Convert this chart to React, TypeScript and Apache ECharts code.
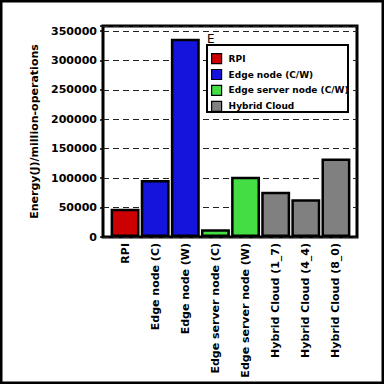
import { useEffect, useRef } from "react";
import * as echarts from "echarts";

const categories = [
  "RPI",
  "Edge node (C)",
  "Edge node (W)",
  "Edge server node (C)",
  "Edge server node (W)",
  "Hybrid Cloud (1_7)",
  "Hybrid Cloud (4_4)",
  "Hybrid Cloud (8_0)",
];
const seriesNames = ["RPI", "Edge node (C/W)", "Edge server node (C/W)", "Hybrid Cloud"];
const seriesColors = ["#cc0000", "#1414dc", "#44dd44", "#808080"];
const rpiValues = [48000, "-", "-", "-", "-", "-", "-", "-"];
const edgeNodeValues = ["-", 97000, 337000, "-", "-", "-", "-", "-"];
const edgeServerValues = ["-", "-", "-", 13000, 102500, "-", "-", "-"];
const hybridValues = ["-", "-", "-", "-", "-", 77000, 64000, 133500];
const yMax = 358500;
const yInterval = 50000;

const FONT = "DejaVu Sans";

export default function App() {
  const ref = useRef<HTMLDivElement>(null);
  useEffect(() => {
    if (!ref.current) return;
    const chart = echarts.init(ref.current, null, { renderer: "svg" });
    const allValues = [rpiValues, edgeNodeValues, edgeServerValues, hybridValues];
    chart.setOption({
      animation: false,
      backgroundColor: "#fff",
      textStyle: { fontFamily: FONT },
      grid: [
        { left: 103, right: 27, top: 26, bottom: 147, show: true, borderColor: "#000", borderWidth: 3, backgroundColor: "transparent" },
        { left: 110, right: 33, top: 26, bottom: 147 },
      ],
      xAxis: [
        { type: "value", gridIndex: 0, show: false, min: 0, max: 1 },
        {
          type: "category",
          gridIndex: 1,
          data: categories,
          axisLine: { show: false },
          axisTick: { show: false },
          axisLabel: {
            rotate: 90,
            margin: 6,
            interval: 0,
            fontSize: 11,
            fontWeight: "bold",
            color: "#000",
            fontFamily: FONT,
          },
        },
      ],
      yAxis: [
        {
          type: "value",
          gridIndex: 0,
          min: 0,
          max: yMax,
          interval: yInterval,
          name: "Energy(J)/million-operations",
          nameLocation: "middle",
          nameGap: 56,
          nameTextStyle: { fontSize: 11, fontWeight: "bold", color: "#000", fontFamily: FONT },
          axisLine: { show: false },
          axisTick: { show: true, length: 3, lineStyle: { color: "#000", width: 1.5 } },
          axisLabel: {
            margin: 6,
            fontSize: 11,
            fontWeight: "bold",
            color: "#000",
            fontFamily: FONT,
            formatter: (v: number) => (v % yInterval === 0 ? String(v) : ""),
          },
          splitLine: { show: true, lineStyle: { color: "#222", width: 1, type: [6, 4] } },
        },
        { type: "value", gridIndex: 1, min: 0, max: yMax, show: false, splitLine: { show: false } },
      ],
      legend: {
        data: seriesNames,
        orient: "vertical",
        left: 211,
        top: 53,
        padding: 0,
        itemWidth: 10,
        itemHeight: 10,
        itemGap: 4.7,
        icon: "rect",
        z: 5,
        itemStyle: { borderColor: "#000", borderWidth: 1.2 },
        textStyle: { fontSize: 9, fontWeight: "bold", color: "#000", fontFamily: FONT, padding: [0, 0, 0, 2] },
      },
      graphic: [
        {
          type: "rect",
          z: 3,
          shape: { x: 207, y: 45, width: 141, height: 67 },
          style: { fill: "#fff", stroke: "#000", lineWidth: 2 },
        },
        {
          type: "text",
          z: 3,
          x: 207,
          y: 33,
          style: { text: "E", fontSize: 12, fontFamily: "DejaVu Sans", fill: "#000" },
        },
        {
          type: "rect",
          z: 10,
          shape: { x: 1, y: 1, width: 382, height: 382 },
          style: { fill: "none", stroke: "#000", lineWidth: 3 },
        },
      ],
      series: seriesNames.map((name, i) => ({
        name,
        type: "bar",
        xAxisIndex: 1,
        yAxisIndex: 1,
        data: allValues[i],
        barGap: "-100%",
        barCategoryGap: "4%",
        itemStyle: { color: seriesColors[i], borderColor: "#000", borderWidth: 2.5 },
      })),
    });
    return () => chart.dispose();
  }, []);
  return (
    <div
      ref={ref}
      style={{ position: "fixed", left: 0, top: 0, width: 384, height: 384 }}
    />
  );
}
